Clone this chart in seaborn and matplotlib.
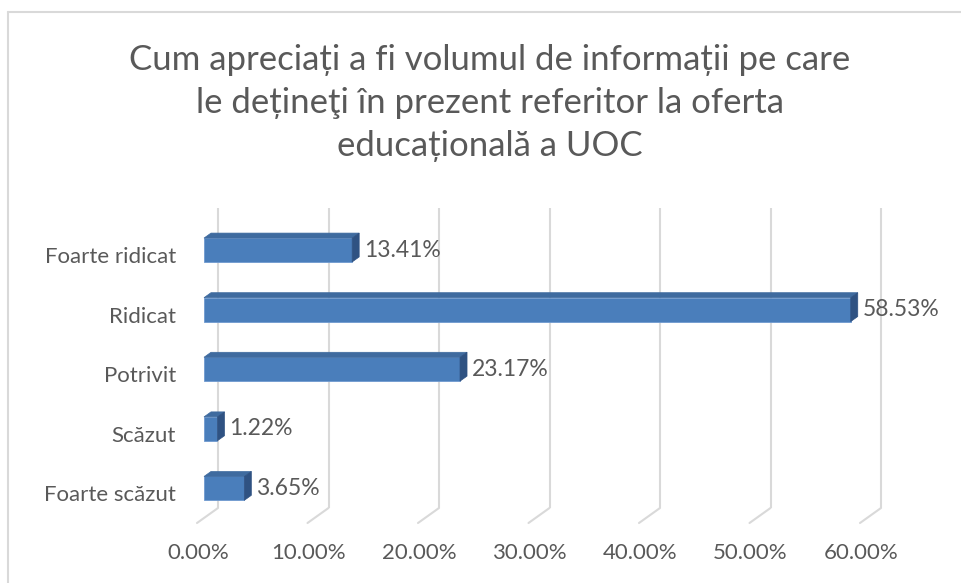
import matplotlib
matplotlib.use('Agg')
import matplotlib.pyplot as plt
import seaborn as sns
import pandas as pd
from matplotlib.patches import Polygon
from matplotlib.lines import Line2D
from matplotlib.transforms import ScaledTranslation

# date extrase din grafic
categories = ['Foarte ridicat', 'Ridicat', 'Potrivit', 'Scăzut', 'Foarte scăzut']
values = [13.41, 58.53, 23.17, 1.22, 3.65]
x_ticks = [0, 10, 20, 30, 40, 50, 60]
title = ('Cum apreciați a fi volumul de informații pe care\n'
         'le dețineţi în prezent referitor la oferta\n'
         'educațională a UOC')

TEXT = '#595959'
FRONT = '#4a7ebb'
TOP = '#3f6b9f'
SIDE = '#2f5282'
GRID = '#d9d9d9'

sns.set_style('white')
plt.rcParams['font.family'] = ['Lato', 'DejaVu Sans']

W, H = 962, 583
fig = plt.figure(figsize=(W / 100, H / 100), dpi=100)

# axe in pixeli: fata barelor incepe la x=204, 11.05 px / procent
px_per = 11.05
x0_px = 204
ax_l, ax_r = 190, 900
ax_t, ax_b = 200, 530
row_px = 59.6
y0_px = 250
ax = fig.add_axes([ax_l / W, 1 - ax_b / H, (ax_r - ax_l) / W, (ax_b - ax_t) / H])

df = pd.DataFrame({'cat': categories, 'val': values})
sns.barplot(data=df, x='val', y='cat', orient='h', color=FRONT, width=0.4,
            saturation=1, ax=ax, edgecolor='#6f9ad0', linewidth=0.6, zorder=3)

ax.set_xlim((ax_l - x0_px) / px_per, (ax_r - x0_px) / px_per)
ax.set_ylim((ax_b - y0_px) / row_px, (ax_t - y0_px) / row_px)

# adancime 3D
dx = 7 / px_per
dy = 5 / row_px
for p in ax.patches[:len(values)]:
    x, y, w, h = p.get_x(), p.get_y(), p.get_width(), p.get_height()
    ax.add_patch(Polygon([(x, y), (x + w, y), (x + w + dx, y - dy), (x + dx, y - dy)],
                         closed=True, facecolor=TOP, edgecolor=TOP, lw=0.5, zorder=3))
    ax.add_patch(Polygon([(x + w, y), (x + w + dx, y - dy), (x + w + dx, y + h - dy), (x + w, y + h)],
                         closed=True, facecolor=SIDE, edgecolor=SIDE, lw=0.5, zorder=3))
    ax.text(x + w + dx + 5 / px_per, y + h / 2, f'{w:.2f}%', ha='left', va='center',
            fontsize=16.5, color=TEXT, zorder=4)

# grila pe peretele din spate + podea
back = 14 / px_per
g_top = (208 - y0_px) / row_px
g_bot = (508 - y0_px) / row_px
f_bot = (523 - y0_px) / row_px
front = -7 / px_per
for t in x_ticks:
    ax.plot([t + back, t + back], [g_top, g_bot], color=GRID, lw=1.5, zorder=1, solid_capstyle='butt')
    ax.plot([t + back, t + front], [g_bot, f_bot], color=GRID, lw=1.5, zorder=1)
    ax.text(t + front + 1 / px_per, (553 - y0_px) / row_px, f'{t:.2f}%', ha='center', va='center',
            fontsize=16, color=TEXT, clip_on=False)

ax.set_xticks([])
ax.set_xlabel('')
ax.set_ylabel('')
ax.tick_params(axis='y', length=0, pad=10, labelsize=16, labelcolor=TEXT)
for lab in ax.get_yticklabels():
    lab.set_transform(lab.get_transform() + ScaledTranslation(0, -5 / 100, fig.dpi_scale_trans))
sns.despine(ax=ax, left=True, bottom=True)
ax.patch.set_alpha(0)

fig.text(490 / W, 1 - 103 / H, title, ha='center', va='center', fontsize=25,
         color=TEXT, linespacing=1.42)

# chenarul graficului
fig.add_artist(Line2D([8 / W, 8 / W], [0, 1 - 12 / H], color=GRID, lw=1.5))
fig.add_artist(Line2D([8 / W, 1], [1 - 12 / H, 1 - 12 / H], color=GRID, lw=1.5))

fig.savefig('out.png', dpi=100)
plt.close()
